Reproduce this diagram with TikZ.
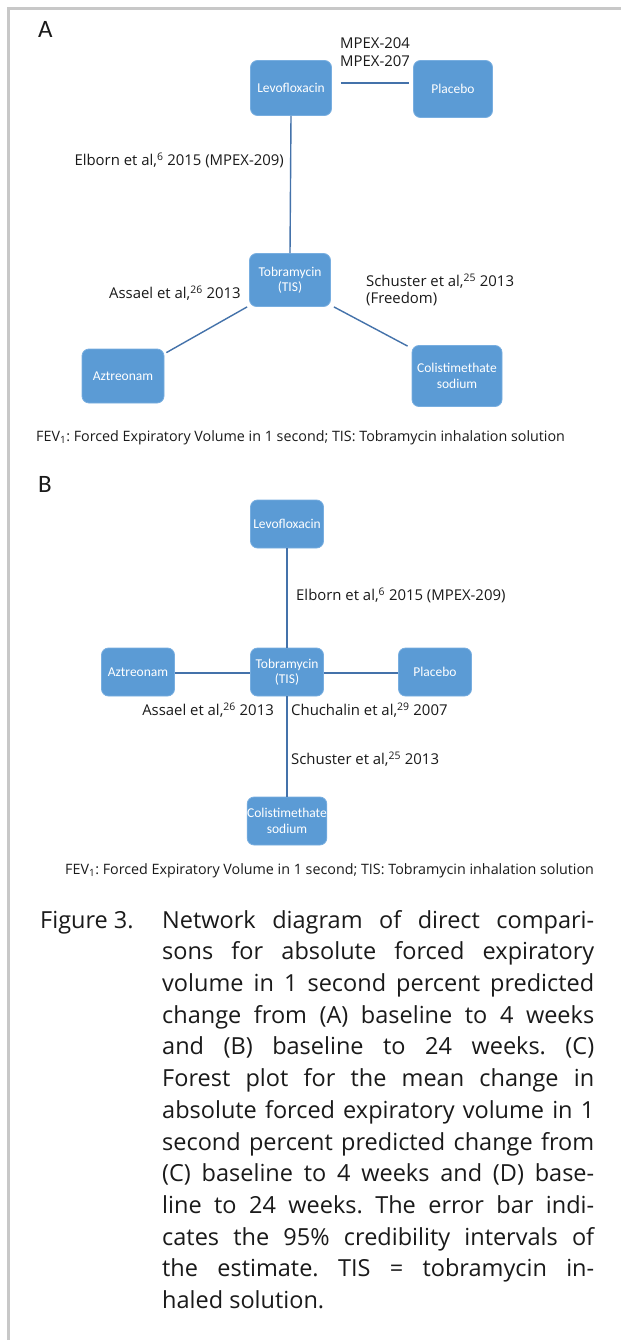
\documentclass[tikz,border=0pt]{standalone}
\usepackage{fontspec}
\setmainfont{Open Sans}
\newfontfamily\boxfont{Carlito}
\definecolor{boxblue}{RGB}{91,155,213}
\definecolor{boxedge}{RGB}{120,174,224}
\definecolor{linkblue}{RGB}{68,114,170}
\definecolor{framegray}{RGB}{200,200,200}
\definecolor{ink}{RGB}{26,26,26}
\newcommand{\capline}[1]{\makebox[432pt][s]{#1}}
\frenchspacing
\begin{document}
\begin{tikzpicture}[x=1pt,y=-1pt,
  drug/.style={draw=boxedge, line width=0.8pt, fill=boxblue, rounded corners=7pt, text=white, font=\boxfont\fontsize{13.5}{15.5}\selectfont, align=center, inner sep=0pt},
  drugA/.style={drug, minimum width=81pt, minimum height=55pt},
  drugB/.style={drug, minimum width=73pt, minimum height=48pt},
  link/.style={draw=linkblue, line width=1.4pt},
  lbl/.style={font=\fontsize{14.9}{17.5}\selectfont, inner sep=0pt, text=ink, align=left},
  foot/.style={font=\fontsize{14.3}{16}\selectfont, inner sep=0pt, text=ink},
  panel/.style={font=\boxfont\fontsize{25}{28}\selectfont, inner sep=0pt, text=ink},
  capfont/.style={font=\fontsize{23.5}{31.7}\selectfont}
  ]
\useasboundingbox (0,0) rectangle (621,1340);
\fill[white] (0,0) rectangle (621,1340);
\draw[framegray, line width=3pt] (8,1340) -- (8,9) -- (621,9);

% ---------- Panel A ----------
\node[panel, anchor=mid west] (pA) at (38,35) {A};
\node[drugA] (aLevo) at (291,88) {Levofloxacin};
\node[drugA, minimum width=79pt, minimum height=57pt] (aPla) at (453,89) {Placebo};
\node[drugA, minimum height=53pt] (aTob) at (290,280) {Tobramycin\\(TIS)};
\node[drugA, minimum width=82pt, minimum height=54pt] (aAz) at (123,376) {Aztreonam};
\node[drugA, minimum width=90pt, minimum height=61pt] (aCol) at (457,376) {Colistimethate\\sodium};

\draw[link] ([shift={(9,-5)}]aLevo.east) -- ([shift={(-4,-6)}]aPla.west);
\draw[link] (aLevo.south) -- (aTob.north);
\draw[link] ([shift={(-2,0)}]aTob.south west) -- ([shift={(2,4)}]aAz.north east);
\draw[link] ([shift={(3,0)}]aTob.south east) -- ([shift={(-4,1)}]aCol.north west);

\node[lbl, anchor=west] (aMpex) at (340,52) {MPEX-204\\MPEX-207};
\node[lbl, anchor=mid east] (aElb) at (284,163) {Elborn et al,\textsuperscript{6} 2015 (MPEX-209)};
\node[lbl, anchor=mid west] (aAss) at (109,296) {Assael et al,\textsuperscript{26} 2013};
\node[lbl, anchor=west] (aSch) at (366,290) {Schuster et al,\textsuperscript{25} 2013\\(Freedom)};
\node[foot, anchor=mid west] (aFoot) at (36,439) {FEV\textsubscript{1}: Forced Expiratory Volume in 1 second; TIS: Tobramycin inhalation solution};

% ---------- Panel B ----------
\node[panel, anchor=mid west] (pB) at (38,490) {B};
\node[drugB] (bLevo) at (287,524) {Levofloxacin};
\node[drugB] (bTob) at (287,672) {Tobramycin\\(TIS)};
\node[drugB] (bAz) at (138,672) {Aztreonam};
\node[drugB] (bPla) at (435,672) {Placebo};
\node[drugB] (bCol) at (287,821) {Colistimethate\\sodium};

\draw[link] (bLevo.south) -- (bTob.north);
\draw[link] (bTob.south) -- (bCol.north);
\draw[link] ([yshift=-1pt]bAz.east) -- ([yshift=-1pt]bTob.west);
\draw[link] ([yshift=-1pt]bTob.east) -- ([yshift=-1pt]bPla.west);

\node[lbl, anchor=mid west] (bElb) at (296,598) {Elborn et al,\textsuperscript{6} 2015 (MPEX-209)};
\node[lbl, anchor=mid east] (bAss) at (274,713) {Assael et al,\textsuperscript{26} 2013};
\node[lbl, anchor=mid west] (bChu) at (291,713) {Chuchalin et al,\textsuperscript{29} 2007};
\node[lbl, anchor=mid west] (bSch) at (291,762) {Schuster et al,\textsuperscript{25} 2013};
\node[foot, anchor=mid west] (bFoot) at (65,872) {FEV\textsubscript{1}: Forced Expiratory Volume in 1 second; TIS: Tobramycin inhalation solution};

% ---------- Caption ----------
\node[capfont, anchor=base west, inner sep=0pt, text=ink] (figno) at (40,928) {Figure 3.};
\node[capfont, anchor=base west, inner sep=0pt, text=ink, align=left] (cap) at (162,1308.5) {%
\capline{Network diagram of direct compari-}\\
\capline{sons for absolute forced expiratory}\\
\capline{volume in 1 second percent predicted}\\
\capline{change from (A) baseline to 4 weeks}\\
\capline{and (B) baseline to 24 weeks. (C)}\\
\capline{Forest plot for the mean change in}\\
\capline{absolute forced expiratory volume in 1}\\
\capline{second percent predicted change from}\\
\capline{(C) baseline to 4 weeks and (D) base-}\\
\capline{line to 24 weeks. The error bar indi-}\\
\capline{cates the 95\% credibility intervals of}\\
\capline{the estimate. TIS = tobramycin in-}\\
haled solution.};
\end{tikzpicture}
\end{document}
